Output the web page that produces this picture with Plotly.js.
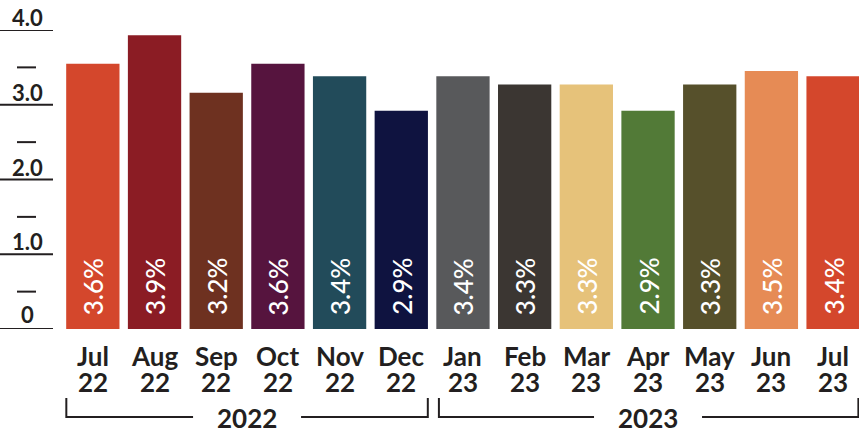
<!DOCTYPE html>
<html>
<head>
<meta charset="utf-8">
<script src="https://cdn.plot.ly/plotly-3.0.1.min.js"></script>
<style>html,body{margin:0;padding:0;background:#fff;}#chart{width:859px;height:429px;}</style>
</head>
<body>
<div id="chart"></div>
<script>
var categories = ["Jul 22","Aug 22","Sep 22","Oct 22","Nov 22","Dec 22","Jan 23","Feb 23","Mar 23","Apr 23","May 23","Jun 23","Jul 23"];
var monthLabels = ["Jul","Aug","Sep","Oct","Nov","Dec","Jan","Feb","Mar","Apr","May","Jun","Jul"];
var yearLabels = ["22","22","22","22","22","22","23","23","23","23","23","23","23"];
var values = [3.55, 3.93, 3.16, 3.55, 3.38, 2.92, 3.38, 3.27, 3.27, 2.92, 3.27, 3.45, 3.38];
var valueLabels = ["3.6%","3.9%","3.2%","3.6%","3.4%","2.9%","3.4%","3.3%","3.3%","2.9%","3.3%","3.5%","3.4%"];
var barColors = ["#D4472C","#8B1C24","#6E3120","#56143E","#224B5A","#0F1340","#58595B","#3B3632","#E6C27A","#527A37","#56502B","#E68B55","#D4472C"];
var yTickVals = [0, 1, 2, 3, 4];
var yTickText = ["0","1.0","2.0","3.0","4.0"];
var yMinorVals = [0.5, 1.5, 2.5, 3.5];
var groupLabels = ["2022","2023"];
var groupStart = [0, 6];
var groupEnd = [5, 12];

var FONT = "Lato, 'Open Sans', sans-serif";
var INK = "#231F20";
var L = 62, W = 797;
function px(p){ return (p - L) / W; }

var idx = categories.map(function(_, i){ return i; });

var trace = {
  type: "bar",
  x: idx,
  y: values,
  marker: {color: barColors, line: {width: 0}},
  hoverinfo: "skip"
};

var shapes = [];
var annotations = [];

yTickVals.forEach(function(v, i){
  shapes.push({type:"line", xref:"paper", yref:"y", x0:px(0), x1:px(53), y0:v, y1:v,
    line:{color:INK, width:2}});
  annotations.push({xref:"paper", yref:"y", x:px(27), y:v, yshift:(v === 0 ? 15 : 12.5), text:yTickText[i],
    showarrow:false, xanchor:"center", yanchor:"middle",
    font:{family:FONT, size:22, color:INK, weight:700}});
});
yMinorVals.forEach(function(v){
  shapes.push({type:"line", xref:"paper", yref:"y", x0:px(17), x1:px(36), y0:v, y1:v,
    line:{color:INK, width:2}});
});

idx.forEach(function(i){
  annotations.push({x:i, y:0, xref:"x", yref:"y", yanchor:"bottom", xanchor:"center", yshift:12,
    text:valueLabels[i], textangle:-90, showarrow:false,
    font:{family:FONT, size:26, color:"#ffffff", weight:500}});
  annotations.push({x:i, y:0, xref:"x", yref:"paper", yanchor:"middle", xanchor:"center", yshift:-26.5,
    text:"<b>"+monthLabels[i]+"</b>", showarrow:false,
    font:{family:FONT, size:26, color:INK}});
  annotations.push({x:i, y:0, xref:"x", yref:"paper", yanchor:"middle", xanchor:"center", yshift:-53,
    text:"<b>"+yearLabels[i]+"</b>", showarrow:false,
    font:{family:FONT, size:26, color:INK}});
});

var gapHalf = 54 / 61.69;
groupLabels.forEach(function(g, k){
  var x0 = groupStart[k] - 0.43, x1 = groupEnd[k] + 0.43;
  if (k === 1) { x0 = groupStart[k] - 0.39; x1 = groupEnd[k] + 0.41; }
  var mid = (groupStart[k] + groupEnd[k]) / 2;
  var common = {xref:"x", yref:"paper", ysizemode:"pixel", yanchor:0, line:{color:INK, width:2}};
  shapes.push(Object.assign({type:"line", x0:x0, x1:x0, y0:-69, y1:-89}, common));
  shapes.push(Object.assign({type:"line", x0:x1, x1:x1, y0:-69, y1:-89}, common));
  shapes.push(Object.assign({type:"line", x0:x0, x1:mid - gapHalf, y0:-88, y1:-88}, common));
  shapes.push(Object.assign({type:"line", x0:mid + gapHalf, x1:x1, y0:-88, y1:-88}, common));
  annotations.push({x:mid, y:0, xref:"x", yref:"paper",
    yanchor:"middle", xanchor:"center", yshift:-89, text:"<b>"+g+"</b>", showarrow:false,
    font:{family:FONT, size:26, color:INK}});
});

var layout = {
  width: 859, height: 429,
  margin: {l:L, r:0, t:30, b:100, pad:0},
  paper_bgcolor: "#ffffff", plot_bgcolor: "#ffffff",
  showlegend: false,
  bargap: 0.136,
  xaxis: {type:"linear", range:[-0.5, 12.42], showticklabels:false, showgrid:false,
    zeroline:false, showline:false, ticks:"", fixedrange:true},
  yaxis: {range:[0, 4], showticklabels:false, showgrid:false, zeroline:false,
    showline:false, ticks:"", fixedrange:true},
  shapes: shapes,
  annotations: annotations,
  font: {family: FONT}
};

Plotly.newPlot("chart", [trace], layout, {displayModeBar:false, staticPlot:true});
</script>
</body>
</html>
